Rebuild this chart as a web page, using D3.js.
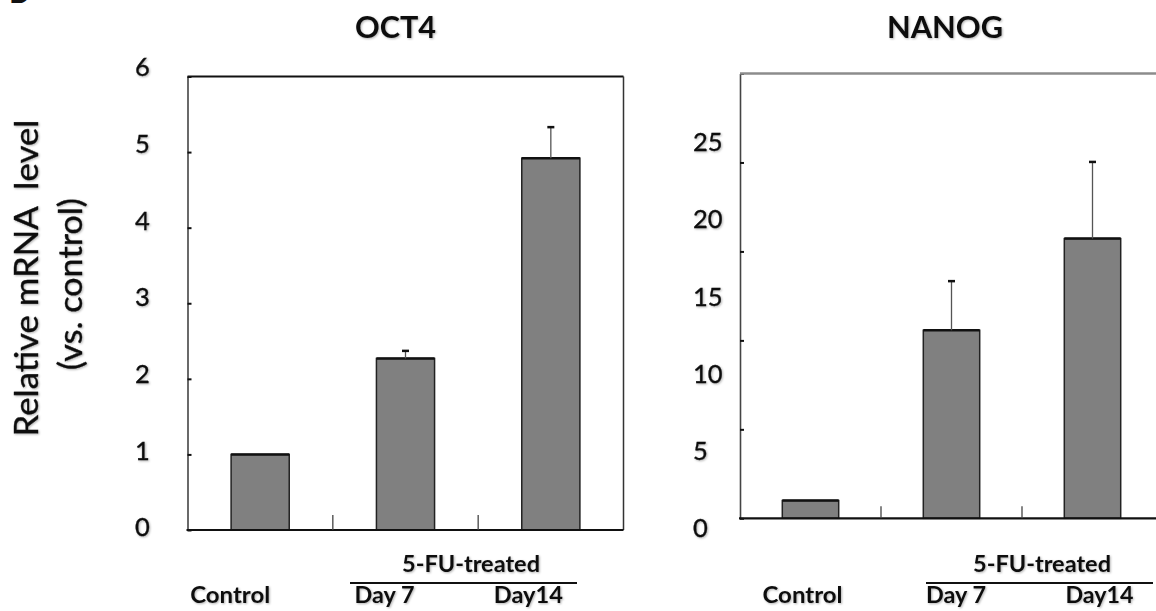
<!DOCTYPE html>
<html>
<head>
<meta charset="utf-8">
<script src="https://cdn.jsdelivr.net/npm/d3@7"></script>
<style>
  html, body { margin: 0; padding: 0; background: #fff; }
  svg { display: block; }
  text { font-family: Lato, "Open Sans", "DejaVu Sans", sans-serif; fill: #111; white-space: pre; }
  text.reg { stroke: #111; stroke-width: 0.35px; }
</style>
</head>
<body>
<svg id="chart" width="1156" height="611"></svg>
<script>
// ---- data ----
const categories = ["Control", "Day 7", "Day14"];
const groupLabel = "5-FU-treated";
const yAxisTitle = ["Relative mRNA  level", "(vs. control)"];

const oct4Title = "OCT4";
const oct4Values = [1.0, 2.27, 4.92];
const oct4ErrorTop = [null, 2.37, 5.33];
const oct4Ticks = [0, 1, 2, 3, 4, 5, 6];
const oct4TickLabels = ["0", "1", "2", "3", "4", "5", "6"];

const nanogTitle = "NANOG";
const nanogValues = [1.0, 10.57, 15.72];
const nanogErrorTop = [null, 13.33, 20.03];
const nanogTicks = [0, 5, 10, 15, 20, 25];
const nanogTickLabels = ["0", "5", "10", "15", "20", "25"];

// ---- drawing ----
const svg = d3.select("#chart");
const defs = svg.append("defs");
const f = defs.append("filter").attr("id", "soft").attr("x", "-20%").attr("y", "-20%").attr("width", "140%").attr("height", "140%");
f.append("feDropShadow").attr("dx", 1).attr("dy", 1).attr("stdDeviation", 1.3)
  .attr("flood-color", "#000").attr("flood-opacity", 0.3);

// set a font size (height) and squeeze/stretch to the measured width
function fitBox(sel, fontSize, width) {
  sel.attr("font-size", fontSize).attr("textLength", width).attr("lengthAdjust", "spacingAndGlyphs");
  return sel;
}

const panels = [
  {
    title: oct4Title, values: oct4Values, errTop: oct4ErrorTop,
    ticks: oct4Ticks, tickLabels: oct4TickLabels,
    x0: 187.5, x1: 623.5, yBottom: 530, yTop: 76.5,
    labelRange: [527, 67], labelX: 135, domainMax: 6,
    titleX: 395.5, titleW: 81,
    topColor: "#111", topWidth: 2, rightBorder: true,
    catShift: [-30, -21, -22.5], catW: [80, 60, 69],
    groupX: 471, groupLine: [350, 577],
    sepLen: 15
  },
  {
    title: nanogTitle, values: nanogValues, errTop: nanogErrorTop,
    ticks: nanogTicks, tickLabels: nanogTickLabels,
    x0: 740, x1: 1163, yBottom: 518.3, yTop: 73.5,
    labelRange: [528.3, 141.7], labelX: 693, domainMax: 25,
    titleX: 945, titleW: 116,
    topColor: "#8c8c8c", topWidth: 2.5, rightBorder: false,
    catShift: [-8, 4.5, 7], catW: [80, 60, 68],
    groupX: 1042, groupLine: [926, 1153],
    sepLen: 12
  }
];

panels.forEach(p => {
  const g = svg.append("g");
  const y = d3.scaleLinear().domain([0, p.domainMax]).range([p.yBottom, p.yTop]);
  const x = d3.scaleBand().domain(categories).range([p.x0, p.x1]).paddingInner(0.6).paddingOuter(0.3);
  const step = x.step();
  const xEdge = d3.scaleLinear().domain([0, categories.length]).range([p.x0, p.x0 + step * categories.length]);
  const labelY = d3.scaleLinear().domain([0, p.domainMax]).range(p.labelRange);
  const rightEdge = Math.min(p.x1, 1156);

  // y axis (ticks pointing inward, no labels)
  const yAxis = d3.axisLeft(y).tickValues(p.ticks).tickSize(-4).tickSizeOuter(0).tickFormat("");
  const ya = g.append("g").attr("transform", `translate(${p.x0},0)`).call(yAxis);
  ya.select(".domain").attr("stroke", "#444").attr("stroke-width", 1.6);
  ya.selectAll(".tick line").attr("stroke", "#111").attr("stroke-width", 2);

  // top frame line
  g.append("line").attr("x1", p.x0).attr("x2", rightEdge).attr("y1", y(p.domainMax)).attr("y2", y(p.domainMax))
    .attr("stroke", p.topColor).attr("stroke-width", p.topWidth);
  if (p.rightBorder) {
    g.append("line").attr("x1", p.x1).attr("x2", p.x1).attr("y1", y(p.domainMax)).attr("y2", y(0))
      .attr("stroke", "#333").attr("stroke-width", 1.5);
  }

  // bars
  g.selectAll("rect.bar").data(p.values).enter().append("rect")
    .attr("x", (d, i) => x(categories[i]))
    .attr("width", x.bandwidth())
    .attr("y", d => y(d))
    .attr("height", d => y(0) - y(d))
    .attr("fill", "#808080").attr("stroke", "#222").attr("stroke-width", 1.5);
  g.selectAll("line.bartop").data(p.values).enter().append("line")
    .attr("x1", (d, i) => x(categories[i])).attr("x2", (d, i) => x(categories[i]) + x.bandwidth())
    .attr("y1", d => y(d)).attr("y2", d => y(d))
    .attr("stroke", "#111").attr("stroke-width", 2.5);

  // error bars (upper only)
  p.errTop.forEach((e, i) => {
    if (e == null) return;
    const cx = x(categories[i]) + x.bandwidth() / 2;
    g.append("line").attr("x1", cx).attr("x2", cx).attr("y1", y(p.values[i])).attr("y2", y(e))
      .attr("stroke", "#555").attr("stroke-width", 1.3);
    g.append("line").attr("x1", cx - 3.5).attr("x2", cx + 3.5).attr("y1", y(e)).attr("y2", y(e))
      .attr("stroke", "#111").attr("stroke-width", 2.5);
  });

  // x axis baseline
  g.append("line").attr("x1", p.x0 - 1).attr("x2", rightEdge).attr("y1", y(0)).attr("y2", y(0))
    .attr("stroke", "#111").attr("stroke-width", 2.2);
  // category separators
  [1, 2].forEach(k => {
    g.append("line").attr("x1", xEdge(k)).attr("x2", xEdge(k)).attr("y1", y(0)).attr("y2", y(0) - p.sepLen)
      .attr("stroke", "#444").attr("stroke-width", 1.3);
  });

  // texts
  const tg = g.append("g").attr("filter", "url(#soft)");
  tg.selectAll("text.tl").data(p.ticks).enter().append("text")
    .attr("class", "reg")
    .attr("x", p.labelX).attr("y", d => labelY(d)).attr("dy", "0.36em")
    .attr("font-size", 25.5).attr("text-anchor", "start")
    .text((d, i) => p.tickLabels[i]);

  const t = tg.append("text").attr("x", p.titleX).attr("y", 38).attr("text-anchor", "middle")
    .attr("font-weight", "bold").text(p.title);
  fitBox(t, 29.5, p.titleW);

  categories.forEach((c, i) => {
    const cx = x(c) + x.bandwidth() / 2 + p.catShift[i];
    const lt = tg.append("text").attr("x", cx).attr("y", 603).attr("text-anchor", "middle")
      .attr("font-weight", "bold").text(c);
    fitBox(lt, 23, p.catW[i]);
  });
  const gl = tg.append("text").attr("x", p.groupX).attr("y", 571.5).attr("text-anchor", "middle")
    .attr("font-weight", "bold").text(groupLabel);
  fitBox(gl, 22, 138);
  g.append("line").attr("x1", p.groupLine[0]).attr("x2", p.groupLine[1]).attr("y1", 583).attr("y2", 583)
    .attr("stroke", "#111").attr("stroke-width", 1.8);
});

// y axis title
const yt = svg.append("g").attr("filter", "url(#soft)");
const yt1 = yt.append("text").attr("class", "reg").attr("transform", "translate(38,278) rotate(-90)")
  .attr("text-anchor", "middle").text(yAxisTitle[0]);
fitBox(yt1, 32, 317);
const yt2 = yt.append("text").attr("class", "reg").attr("transform", "translate(82,284) rotate(-90)")
  .attr("text-anchor", "middle").text(yAxisTitle[1]);
fitBox(yt2, 32, 172);

// partial panel letter at top-left corner
svg.append("text").attr("x", 9).attr("y", 3).attr("font-size", 30).attr("font-weight", "bold").text("B");
</script>
</body>
</html>
